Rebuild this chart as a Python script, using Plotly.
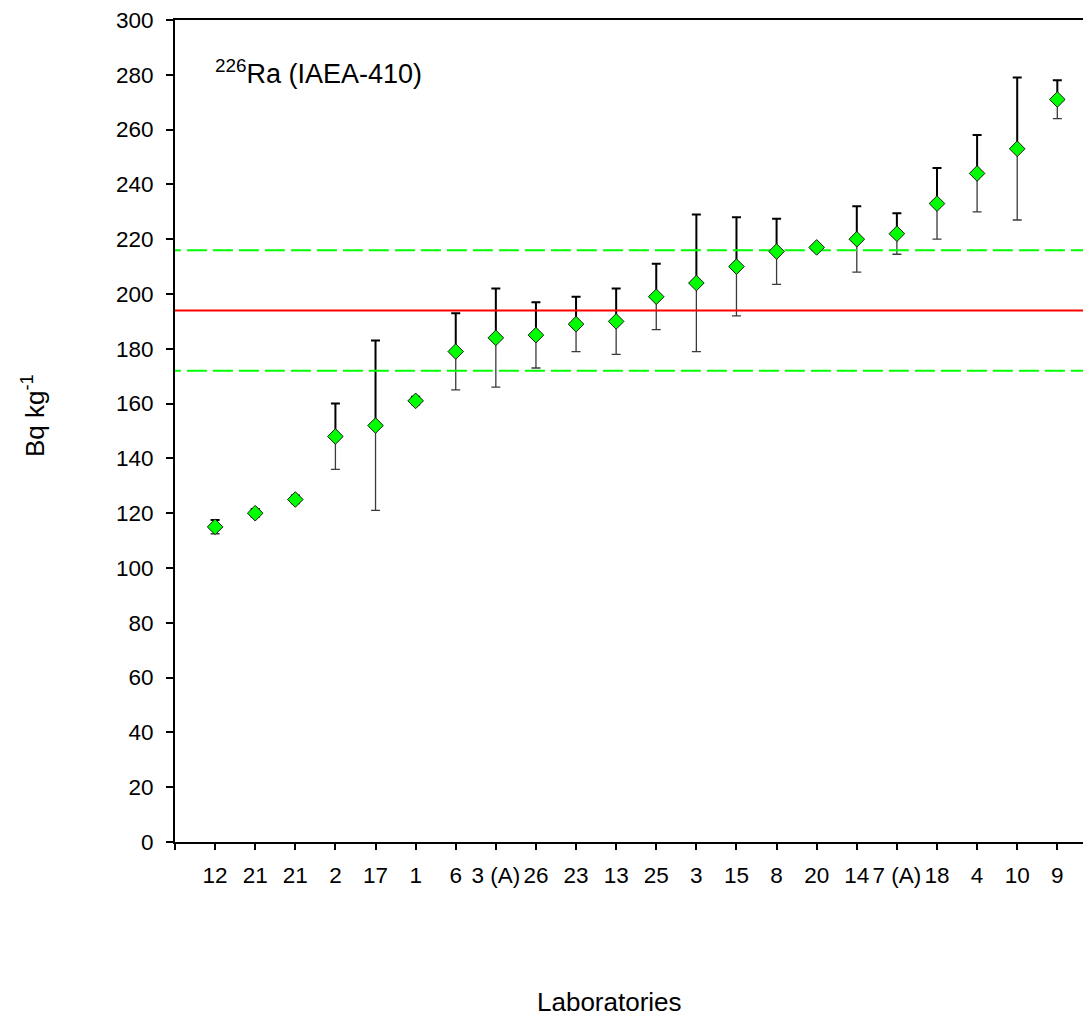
import plotly.graph_objects as go

labs = ["12", "21", "21", "2", "17", "1", "6", "3 (A)", "26", "23", "13", "25",
        "3", "15", "8", "20", "14", "7 (A)", "18", "4", "10", "9"]
vals = [115, 120, 125, 148, 152, 161, 179, 184, 185, 189, 190, 199,
        204, 210, 215.5, 217, 220, 222, 233, 244, 253, 271]
err_up = [2.5, 1.5, 1.5, 12, 31, 1.5, 14, 18, 12, 10, 12, 12,
          25, 18, 12, 1, 12, 7.5, 13, 14, 26, 7]
err_dn = [2.5, 1.5, 1.5, 12, 31, 1.5, 14, 18, 12, 10, 12, 12,
          25, 18, 12, 1, 12, 7.5, 13, 14, 26, 7]
ref_mean = 194
ref_low = 172
ref_high = 216

pos = list(range(1, len(labs) + 1))
zeros = [0] * len(labs)
FONT = "Liberation Sans, Arial, sans-serif"

fig = go.Figure()

# upper error bars (thick black)
fig.add_trace(go.Scatter(
    x=pos, y=vals, mode="markers",
    marker=dict(color="rgba(0,0,0,0)", size=1),
    error_y=dict(type="data", symmetric=False, array=err_up, arrayminus=zeros,
                 color="black", thickness=2, width=4.5),
    showlegend=False, hoverinfo="skip"))
# lower error bars (thinner, grey)
fig.add_trace(go.Scatter(
    x=pos, y=vals, mode="markers",
    marker=dict(color="rgba(0,0,0,0)", size=1),
    error_y=dict(type="data", symmetric=False, array=zeros, arrayminus=err_dn,
                 color="#3a3a3a", thickness=1.3, width=4.5),
    showlegend=False, hoverinfo="skip"))

# reference lines
XL = [-1, 40]
fig.add_trace(go.Scatter(x=XL, y=[ref_mean] * 2, mode="lines",
                         line=dict(color="#ff0000", width=2),
                         showlegend=False, hoverinfo="skip"))
for v in (ref_low, ref_high):
    fig.add_trace(go.Scatter(x=XL, y=[v] * 2, mode="lines",
                             line=dict(color="#00ff00", width=2, dash="20px,6px"),
                             showlegend=False, hoverinfo="skip"))

# markers
fig.add_trace(go.Scatter(
    x=pos, y=vals, mode="markers",
    marker=dict(symbol="diamond", size=12, color="#00ff00",
                line=dict(color="#1a1a1a", width=1)),
    showlegend=False))

# page has an 8px body margin: figure is 8px smaller and everything is shifted
fig.update_layout(
    width=1083, height=1013,
    margin=dict(l=167, r=0, t=10, b=179),
    paper_bgcolor="white", plot_bgcolor="white",
    font=dict(family=FONT, color="black", size=22),
    xaxis=dict(range=[0, 22.84], tickmode="array",
               tickvals=[0] + pos, ticktext=[""] + labs, tickangle=0,
               showgrid=False, zeroline=False,
               showline=True, linecolor="black", linewidth=2, mirror=True,
               ticks="outside", ticklen=6, tickwidth=1.5, tickcolor="black",
               ticklabeloverflow="allow",
               tickfont=dict(size=22.5, family=FONT), ticklabelstandoff=6),
    yaxis=dict(range=[0, 300], tickmode="linear", tick0=0, dtick=20,
               showgrid=False, zeroline=False,
               showline=True, linecolor="black", linewidth=2,
               ticks="outside", ticklen=7, tickwidth=1.5, tickcolor="black",
               ticklabeloverflow="allow",
               tickfont=dict(size=22.5, family=FONT), ticklabelstandoff=8),
    annotations=[
        dict(text="<sup>226</sup>Ra (IAEA-410)", xref="paper", yref="paper",
             x=(213 - 175) / 916, y=(842 - 70) / 824, xanchor="left", yanchor="middle",
             showarrow=False, font=dict(size=27, family=FONT)),
        dict(text="Laboratories", xref="paper", yref="paper",
             x=(609 - 175) / 916, y=(842 - 1002) / 824, xanchor="center", yanchor="middle",
             showarrow=False, font=dict(size=26, family=FONT)),
        dict(text="Bq kg<sup>-1</sup>", xref="paper", yref="paper", textangle=-90,
             x=(33 - 175) / 916, y=(842 - 415) / 824, xanchor="center", yanchor="middle",
             showarrow=False, font=dict(size=26, family=FONT)),
    ],
)

fig.write_html("out.html")
